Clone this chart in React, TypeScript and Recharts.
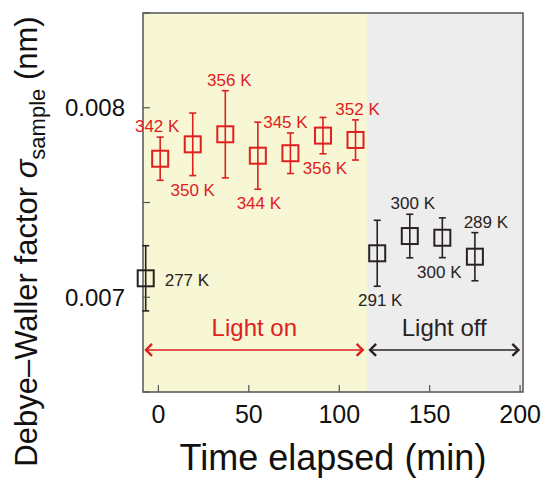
import { ErrorBar, Label, ReferenceArea, ReferenceLine, Scatter, ScatterChart, XAxis, YAxis } from "recharts";

// time (min) and sigma (nm)
const redTimes = [1, 19, 37, 55, 73, 91, 109];
const redSigma = [0.007731, 0.007807, 0.00786, 0.007747, 0.00776, 0.007853, 0.00783];
const redErr = [0.000114, 0.000165, 0.00023, 0.000177, 0.000107, 0.000096, 0.000106];
const redTemps = ["342 K", "350 K", "356 K", "344 K", "345 K", "356 K", "352 K"];

const blackTimes = [-7, 121, 139, 157, 175];
const blackSigma = [0.0071, 0.007232, 0.007323, 0.007314, 0.007214];
const blackErr = [0.000172, 0.000174, 0.000115, 0.000105, 0.000127];
const blackTemps = ["277 K", "291 K", "300 K", "300 K", "289 K"];

const xTicks = [0, 50, 100, 150, 200];
const yTicks = [0.0065, 0.007, 0.0075, 0.008, 0.0085];
const yLabeled = [0.007, 0.008];

const lightSwitch = 115.4;
const lightOnArrow = [-7.4, 113.5];
const lightOffArrow = [116.5, 199.6];
const arrowLevel = 0.006722;

const RED = "#e0201e";
const DARK = "#2a2220";
const FONT = "'Liberation Sans', Arial, Helvetica, sans-serif";

const WIDTH = 543;
const HEIGHT = 479;
const MARGIN = { top: 13, right: 20, left: 0, bottom: 0 };
const X_AXIS_H = 87;
const Y_AXIS_W = 143;
const X_DOMAIN: [number, number] = [-8.5, 201.6];
const Y_DOMAIN: [number, number] = [0.0065, 0.0085];
const PX_PER_Y = (HEIGHT - MARGIN.top - MARGIN.bottom - X_AXIS_H) / (Y_DOMAIN[1] - Y_DOMAIN[0]);

const red = redTimes.map((x, i) => ({ x, y: redSigma[i], err: redErr[i] }));
const black = blackTimes.map((x, i) => ({ x, y: blackSigma[i], err: blackErr[i] }));

type Place = "up" | "down" | "right";

function makeShape(color: string, times: number[], errs: number[], temps: string[], place: Place[], dx: number[]) {
  return (props: any) => {
    const { cx, cy, payload } = props;
    const i = times.indexOf(payload.x);
    const e = errs[i] * PX_PER_Y;
    let ty = cy + 8;
    let anchor: "middle" | "start" = "middle";
    if (place[i] === "up") ty = cy - e - 5;
    else if (place[i] === "down") ty = cy + e + 20;
    else anchor = "start";
    return (
      <g>
        <rect x={cx - 8} y={cy - 8} width={16} height={16} fill="none" stroke={color} strokeWidth={2} />
        <text x={cx + dx[i]} y={ty} textAnchor={anchor} fontSize={17} fill={color} fontFamily={FONT}>
          {temps[i]}
        </text>
      </g>
    );
  };
}

const redShape = makeShape(RED, redTimes, redErr, redTemps, ["up", "down", "up", "down", "up", "down", "up"], [-3, 0, 4, 1, -5, 2, 2]);
const blackShape = makeShape(DARK, blackTimes, blackErr, blackTemps, ["right", "down", "up", "down", "up"], [19, 3, 3, -3, 11]);

function arrowShape(color: string, text: string) {
  return (props: any) => {
    const { x1, y1, x2 } = props;
    const mid = (x1 + x2) / 2;
    return (
      <g>
        <line x1={x1} y1={y1} x2={x2} y2={y1} stroke={color} strokeWidth={1.5} />
        <path d={`M${x1 + 7},${y1 - 6} L${x1 + 1},${y1} L${x1 + 7},${y1 + 6}`} fill="none" stroke={color} strokeWidth={2.4} />
        <path d={`M${x2 - 7},${y1 - 6} L${x2 - 1},${y1} L${x2 - 7},${y1 + 6}`} fill="none" stroke={color} strokeWidth={2.4} />
        <text x={mid} y={y1 - 14} textAnchor="middle" fontSize={24} fill={color} fontFamily={FONT}>
          {text}
        </text>
      </g>
    );
  };
}

const tickLine = { stroke: "#555", strokeWidth: 1.2 };

export default function App() {
  return (
    <div style={{ fontFamily: FONT, width: WIDTH, height: HEIGHT }}>
      <style>{"html, body { margin: 0; padding: 0; }"}</style>
      <ScatterChart width={WIDTH} height={HEIGHT} margin={MARGIN}>
        <ReferenceArea x1={X_DOMAIN[0]} x2={lightSwitch} y1={Y_DOMAIN[0]} y2={Y_DOMAIN[1]} fill="#f7f7d5" fillOpacity={1} stroke="none" />
        <ReferenceArea x1={lightSwitch} x2={X_DOMAIN[1]} y1={Y_DOMAIN[0]} y2={Y_DOMAIN[1]} fill="#ededed" fillOpacity={1} stroke="none" />
        <XAxis
          type="number"
          dataKey="x"
          domain={X_DOMAIN}
          ticks={xTicks}
          height={X_AXIS_H}
          axisLine={false}
          tickLine={tickLine}
          tickSize={-7}
          tickMargin={20}
          tick={{ fontSize: 25, fill: "#111", fontFamily: FONT }}
        >
          <Label
            content={(p: any) => {
              const vb = p.viewBox;
              return (
                <text x={vb.x + vb.width / 2} y={vb.y + 78} textAnchor="middle" fontSize={36} fill="#111" fontFamily={FONT}>
                  Time elapsed (min)
                </text>
              );
            }}
          />
        </XAxis>
        <XAxis
          xAxisId="top"
          orientation="top"
          type="number"
          domain={X_DOMAIN}
          ticks={xTicks}
          allowDataOverflow
          height={0}
          axisLine={false}
          tickLine={tickLine}
          tickSize={-7}
          tickFormatter={() => ""}
        />
        <YAxis
          type="number"
          dataKey="y"
          domain={Y_DOMAIN}
          ticks={yTicks}
          width={Y_AXIS_W}
          axisLine={false}
          tickLine={tickLine}
          tickSize={-7}
          tickMargin={25}
          tickFormatter={(v: number) => (yLabeled.includes(v) ? v.toFixed(3) : "")}
          tick={{ fontSize: 24, fill: "#111", fontFamily: FONT }}
        >
          <Label
            content={(p: any) => {
              const vb = p.viewBox;
              const cx = 37;
              const cy = vb.y + 228.5;
              return (
                <text
                  x={cx}
                  y={cy}
                  transform={`rotate(-90, ${cx}, ${cy})`}
                  textAnchor="middle"
                  fontSize={31}
                  fill="#111"
                  fontFamily={FONT}
                >
                  Debye–Waller factor <tspan fontStyle="italic">σ</tspan>
                  <tspan fontSize={22} dy={8}>sample</tspan>
                  <tspan dy={-8}> (nm)</tspan>
                </text>
              );
            }}
          />
        </YAxis>
        <YAxis
          yAxisId="right"
          orientation="right"
          type="number"
          domain={Y_DOMAIN}
          ticks={yTicks}
          allowDataOverflow
          width={0}
          axisLine={false}
          tickLine={tickLine}
          tickSize={-7}
          tickFormatter={() => ""}
        />
        <ReferenceLine
          segment={[
            { x: lightOnArrow[0], y: arrowLevel },
            { x: lightOnArrow[1], y: arrowLevel },
          ]}
          shape={arrowShape(RED, "Light on")}
        />
        <ReferenceLine
          segment={[
            { x: lightOffArrow[0], y: arrowLevel },
            { x: lightOffArrow[1], y: arrowLevel },
          ]}
          shape={arrowShape(DARK, "Light off")}
        />
        <Scatter data={red} fill="none" shape={redShape} isAnimationActive={false}>
          <ErrorBar dataKey="err" direction="y" width={3.5} stroke={RED} strokeWidth={1.6} />
        </Scatter>
        <Scatter data={black} fill="none" shape={blackShape} isAnimationActive={false}>
          <ErrorBar dataKey="err" direction="y" width={3.5} stroke={DARK} strokeWidth={1.6} />
        </Scatter>
        <ReferenceArea x1={X_DOMAIN[0]} x2={X_DOMAIN[1]} y1={Y_DOMAIN[0]} y2={Y_DOMAIN[1]} fill="none" stroke="#555" strokeWidth={1.5} />
      </ScatterChart>
    </div>
  );
}
